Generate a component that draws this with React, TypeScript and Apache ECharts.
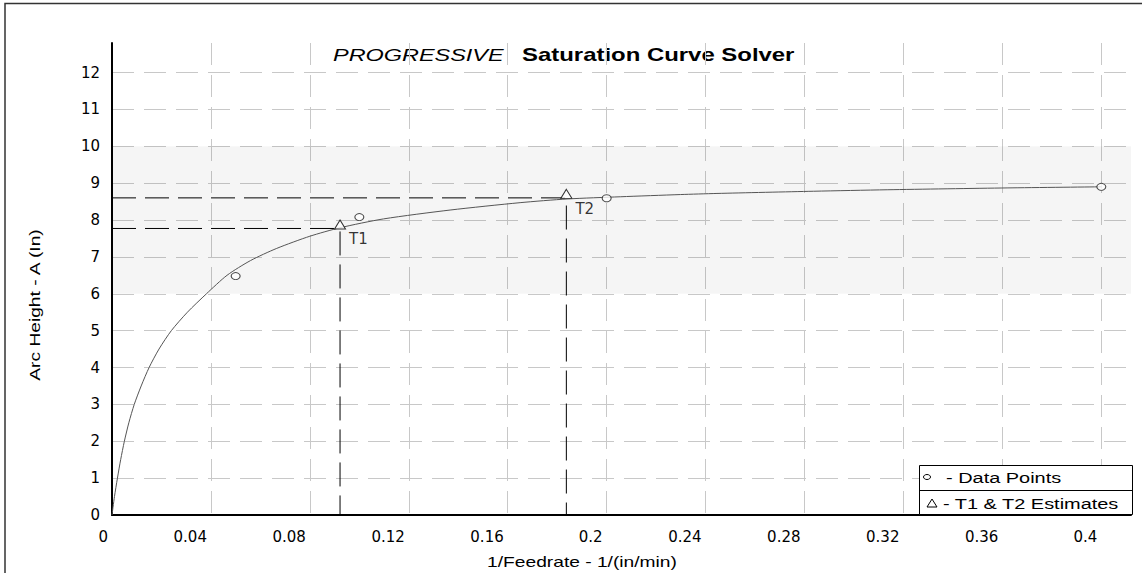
import React, { useEffect, useRef } from "react";
import * as echarts from "echarts";

// ---- data ----
const curveX = [0, 0.001, 0.0022, 0.0035, 0.005, 0.0068, 0.009, 0.0118, 0.015, 0.019, 0.024, 0.0305, 0.0382, 0.0465, 0.056, 0.0666, 0.08, 0.0922, 0.1098, 0.1367, 0.165, 0.184, 0.2055, 0.2298, 0.2446, 0.2837, 0.3134, 0.3619, 0.4];
const curveY = [0, 0.5, 1, 1.5, 2, 2.5, 3, 3.5, 4, 4.5, 5, 5.5, 6, 6.5, 6.9, 7.23, 7.56, 7.79, 8.03, 8.27, 8.47, 8.57, 8.63, 8.69, 8.72, 8.78, 8.82, 8.87, 8.9];

const pointX = [0.05, 0.1, 0.2, 0.4];
const pointY = [6.48, 8.08, 8.59, 8.9];

const estNames = ["T1", "T2"];
const estX = [0.0922, 0.1837];
const estY = [7.77, 8.6];

const band = [6, 10];

const xTicks = { min: 0, max: 0.412, interval: 0.04 };
const yTicks = { min: 0, max: 12.8, interval: 1 };

const FONT = "DejaVu Sans";
const AR = "Liberation Sans";

export default function App() {
  const ref = useRef<HTMLDivElement>(null);
  useEffect(() => {
    if (!ref.current) return;
    const chart = echarts.init(ref.current, undefined, { renderer: "svg" });
    const gridDash = { color: "#c8c8c8", width: 1, type: [22, 10] as any };
    const fmt = (v: number) => String(+Number(v).toFixed(4));

    const estSeries = estX.map((x, i) => ({
      type: "line",
      data: [[0, estY[i]], [x, estY[i]], [x, 0]],
      symbol: "none",
      lineStyle: { color: "#000", width: 1, type: [24, 9] },
      z: 3,
      silent: true,
    }));

    chart.setOption({
      animation: false,
      backgroundColor: "#fff",
      textStyle: { fontFamily: FONT },
      grid: { left: 112, right: 11, top: 43, bottom: 58, containLabel: false },
      xAxis: {
        type: "value",
        min: xTicks.min,
        max: xTicks.max,
        interval: xTicks.interval,
        axisLine: { show: true, onZero: false, lineStyle: { color: "#000", width: 2 } },
        axisTick: { show: false },
        axisLabel: {
          color: "#000",
          fontSize: 15,
          fontFamily: FONT,
          margin: 14,
          align: "right",
          padding: [0, 4, 0, 0],
          showMaxLabel: false,
          formatter: fmt,
        },
        splitLine: { show: true, showMaxLine: false, lineStyle: gridDash },
      },
      yAxis: {
        type: "value",
        min: yTicks.min,
        max: yTicks.max,
        interval: yTicks.interval,
        axisLine: { show: true, onZero: false, lineStyle: { color: "#000", width: 2 } },
        axisTick: { show: false },
        axisLabel: {
          color: "#000",
          fontSize: 15,
          fontFamily: FONT,
          margin: 12,
          showMaxLabel: false,
          formatter: fmt,
        },
        splitLine: { show: true, showMaxLine: false, lineStyle: gridDash },
      },
      series: [
        {
          type: "line",
          data: curveX.map((x, i) => [x, curveY[i]]),
          symbol: "none",
          smooth: 0.25,
          lineStyle: { color: "#555", width: 1 },
          z: 4,
          silent: true,
          markArea: {
            silent: true,
            itemStyle: { color: "rgba(0,0,0,0.04)" },
            data: [[{ yAxis: band[0] }, { yAxis: band[1] }]],
          },
        },
        ...estSeries,
        {
          type: "scatter",
          data: pointX.map((x, i) => [x, pointY[i]]),
          symbol: "circle",
          symbolSize: [9, 7],
          itemStyle: { color: "#fff", borderColor: "#222", borderWidth: 1 },
          z: 5,
          silent: true,
        },
        {
          type: "scatter",
          data: estX.map((x, i) => ({ value: [x, estY[i]], name: estNames[i] })),
          symbol: "triangle",
          symbolSize: [11, 9],
          symbolOffset: [0, -4],
          itemStyle: { color: "#fff", borderColor: "#000", borderWidth: 1 },
          label: {
            show: true,
            position: "right",
            distance: 3,
            offset: [0, 15],
            formatter: (p: any) => p.name,
            color: "#000",
            fontSize: 15,
            fontFamily: FONT,
          },
          z: 6,
          silent: true,
        },
      ],
      graphic: [
        {
          type: "rect",
          shape: { x: 5, y: 3.5, width: 1300, height: 800 },
          style: { fill: "none", stroke: "#333", lineWidth: 1.5 },
          silent: true,
        },
        {
          type: "text",
          x: 333,
          y: 55,
          scaleX: 1.38,
          style: {
            text: "PROGRESSIVE",
            font: `italic 17px "${AR}"`,
            fill: "#000",
            textAlign: "left",
            textVerticalAlign: "middle",
          },
        },
        {
          type: "text",
          x: 522,
          y: 55,
          scaleX: 1.33,
          style: {
            text: "Saturation Curve Solver",
            font: `bold 18px "${AR}"`,
            fill: "#000",
            textAlign: "left",
            textVerticalAlign: "middle",
          },
        },
        {
          type: "text",
          x: 582,
          y: 562,
          scaleX: 1.28,
          style: {
            text: "1/Feedrate - 1/(in/min)",
            font: `15px "${AR}"`,
            fill: "#000",
            textAlign: "center",
            textVerticalAlign: "middle",
          },
        },
        {
          type: "text",
          x: 35,
          y: 305,
          rotation: Math.PI / 2,
          scaleX: 1.28,
          style: {
            text: "Arc Height - A (In)",
            font: `15px "${AR}"`,
            fill: "#000",
            textAlign: "center",
            textVerticalAlign: "middle",
          },
        },
        {
          type: "rect",
          shape: { x: 919.5, y: 465.5, width: 213, height: 49 },
          style: { fill: "#fff", stroke: "#000", lineWidth: 1 },
          z: 100,
        },
        {
          type: "line",
          shape: { x1: 919.5, y1: 490.5, x2: 1132.5, y2: 490.5 },
          style: { stroke: "#000", lineWidth: 1 },
          z: 101,
        },
        {
          type: "ellipse",
          shape: { cx: 927, cy: 477, rx: 3.5, ry: 2.5 },
          style: { fill: "#fff", stroke: "#000", lineWidth: 1 },
          z: 101,
        },
        {
          type: "polygon",
          shape: { points: [[927, 507], [937, 507], [932, 499]] },
          style: { fill: "#fff", stroke: "#000", lineWidth: 1 },
          z: 101,
        },
        {
          type: "text",
          x: 946,
          y: 478,
          scaleX: 1.33,
          z: 101,
          style: {
            text: "- Data Points",
            font: `15px "${AR}"`,
            fill: "#000",
            textAlign: "left",
            textVerticalAlign: "middle",
          },
        },
        {
          type: "text",
          x: 943,
          y: 504,
          scaleX: 1.33,
          z: 101,
          style: {
            text: "- T1 & T2 Estimates",
            font: `15px "${AR}"`,
            fill: "#000",
            textAlign: "left",
            textVerticalAlign: "middle",
          },
        },
      ],
    });
    return () => chart.dispose();
  }, []);

  return (
    <div
      ref={ref}
      style={{ position: "fixed", left: 0, top: 0, width: 1142, height: 573, background: "#fff" }}
    />
  );
}
